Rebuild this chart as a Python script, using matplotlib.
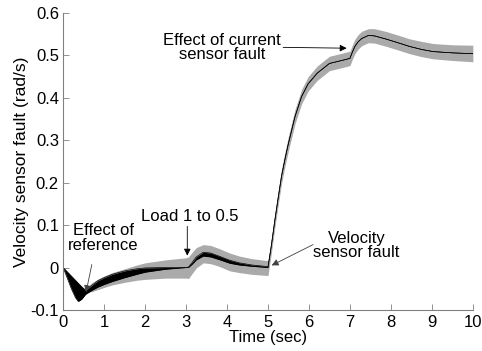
import matplotlib
matplotlib.use("Agg")
import matplotlib.pyplot as plt

plt.rcParams["font.family"] = ["Liberation Sans", "DejaVu Sans"]

# sample times (sec)
t = [0, 0.1, 0.2, 0.3, 0.37, 0.45, 0.55, 0.7, 0.85, 1.0, 1.2, 1.5, 1.8, 2.0, 2.5, 3.0,
     3.06, 3.15, 3.25, 3.42, 3.6, 3.8, 4.07, 4.3, 4.6, 5.0,
     5.08, 5.17, 5.25, 5.33, 5.42, 5.5, 5.66, 5.82, 5.98, 6.2, 6.5, 6.84, 7.0,
     7.06, 7.12, 7.2, 7.29, 7.45, 7.6, 7.9, 8.2, 8.46, 8.75, 9.03, 9.5, 10.0]

# estimated fault, upper / lower edge of the black traces (rad/s)
est_upper = [0, -0.010, -0.020, -0.030, -0.037, -0.045, -0.054, -0.042, -0.031, -0.024,
             -0.016, -0.008, -0.003, -0.001, 0.0, 0.0,
             0.001, 0.012, 0.025, 0.036, 0.034, 0.027, 0.017, 0.011, 0.006, 0.002,
             0.050, 0.113, 0.165, 0.215, 0.258, 0.293, 0.356, 0.403, 0.433, 0.458, 0.481, 0.489, 0.493,
             0.508, 0.521, 0.532, 0.540, 0.547, 0.546, 0.538, 0.529, 0.521, 0.514, 0.509, 0.506, 0.504]
est_lower = [0, -0.025, -0.050, -0.071, -0.080, -0.075, -0.063, -0.054, -0.046, -0.040,
             -0.033, -0.024, -0.016, -0.011, -0.004, 0.0,
             0.0, 0.008, 0.018, 0.027, 0.025, 0.019, 0.010, 0.006, 0.003, 0.0,
             0.050, 0.113, 0.165, 0.215, 0.258, 0.293, 0.356, 0.403, 0.433, 0.458, 0.481, 0.489, 0.493,
             0.508, 0.521, 0.532, 0.540, 0.547, 0.546, 0.538, 0.529, 0.521, 0.514, 0.509, 0.506, 0.504]

# bounds of the grey band
band_upper = [0, -0.010, -0.020, -0.030, -0.037, -0.045, -0.050, -0.036, -0.027, -0.020,
              -0.012, -0.003, 0.006, 0.011, 0.018, 0.023,
              0.025, 0.036, 0.047, 0.054, 0.052, 0.045, 0.034, 0.027, 0.021, 0.016,
              0.067, 0.130, 0.182, 0.232, 0.275, 0.310, 0.373, 0.420, 0.450, 0.475, 0.498, 0.506, 0.510,
              0.525, 0.538, 0.549, 0.557, 0.563, 0.563, 0.556, 0.547, 0.539, 0.533, 0.528, 0.525, 0.524]
band_lower = [0, -0.012, -0.024, -0.036, -0.044, -0.052, -0.058, -0.057, -0.052, -0.047,
              -0.041, -0.035, -0.030, -0.028, -0.025, -0.025,
              -0.026, -0.014, -0.001, 0.011, 0.009, 0.003, -0.008, -0.012, -0.016, -0.019,
              0.033, 0.096, 0.148, 0.198, 0.241, 0.276, 0.339, 0.386, 0.416, 0.441, 0.464, 0.472, 0.476,
              0.491, 0.504, 0.515, 0.523, 0.530, 0.529, 0.521, 0.512, 0.504, 0.497, 0.492, 0.488, 0.485]

fig = plt.figure(figsize=(4.82, 3.51), dpi=100)
ax = fig.add_axes([0.131, 0.117, 0.85, 0.846])

ax.fill_between(t, band_lower, band_upper, color="#aaaaaa", lw=0)
ax.fill_between(t, est_lower, est_upper, color="black", lw=0)
ax.plot(t, est_upper, color="black", lw=0.5)
ax.plot(t, est_lower, color="black", lw=0.5)

ax.set_xlim(0, 10)
ax.set_ylim(-0.1, 0.6)
ax.set_xticks(range(0, 11))
ax.set_yticks([-0.1, 0, 0.1, 0.2, 0.3, 0.4, 0.5, 0.6])
ax.set_yticklabels(["-0.1", "0", "0.1", "0.2", "0.3", "0.4", "0.5", "0.6"])
ax.tick_params(direction="in", length=4, width=0.6, color="#808080", labelsize=12)
ax.tick_params(axis="x", pad=4)
ax.tick_params(axis="y", pad=3)
for side in ["top", "right"]:
    ax.spines[side].set_visible(False)
for side in ["left", "bottom"]:
    ax.spines[side].set_color("#808080")
    ax.spines[side].set_linewidth(0.8)

ax.set_xlabel("Time (sec)", fontsize=12, labelpad=0)
ax.set_ylabel("Velocity sensor fault (rad/s)", fontsize=12.5, labelpad=1)

arrow = dict(arrowstyle="-|>", color="black", lw=0.6, mutation_scale=10, shrinkA=0, shrinkB=0)
ax.text(0.98, 0.07, "Effect of\nreference", ha="center", va="center", fontsize=12, linespacing=0.95)
ax.annotate("", xy=(0.56, -0.058), xytext=(0.70, 0.007), arrowprops=dict(arrow, color="#404040"))
ax.text(3.1, 0.12, "Load 1 to 0.5", ha="center", va="center", fontsize=12)
ax.annotate("", xy=(3.03, 0.028), xytext=(3.03, 0.097), arrowprops=arrow)
ax.text(7.16, 0.052, "Velocity\nsensor fault", ha="center", va="center", fontsize=12, linespacing=0.95)
ax.annotate("", xy=(5.09, 0.005), xytext=(6.1, 0.054), arrowprops=dict(arrow, color="#404040"))
ax.text(3.88, 0.519, "Effect of current\nsensor fault", ha="center", va="center", fontsize=12, linespacing=0.95)
ax.annotate("", xy=(6.92, 0.517), xytext=(5.37, 0.519), arrowprops=arrow)

fig.savefig("out.png", dpi=100)
